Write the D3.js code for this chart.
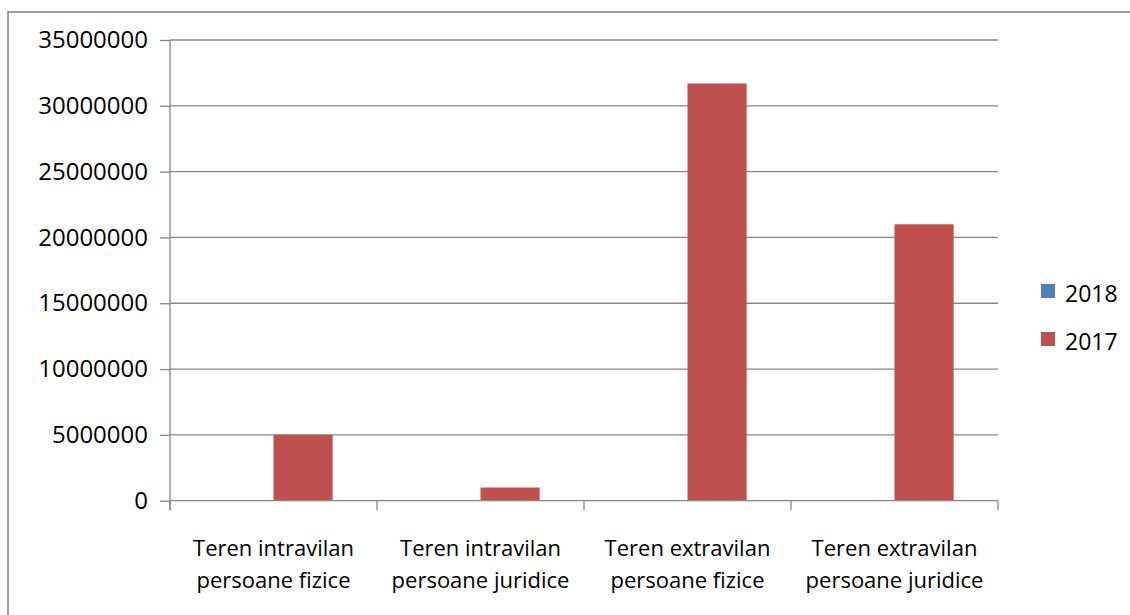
<!DOCTYPE html>
<html>
<head>
<meta charset="utf-8">
<script src="https://cdn.jsdelivr.net/npm/d3@7"></script>
<style>
  html, body { margin: 0; padding: 0; background: #fff; }
  svg { display: block; }
  text { font-family: "Open Sans", "Liberation Sans", sans-serif; fill: #000; }
</style>
</head>
<body>
<svg id="chart" width="1130" height="615"></svg>
<script>
const categories = [
  ["Teren intravilan", "persoane fizice"],
  ["Teren intravilan", "persoane juridice"],
  ["Teren extravilan", "persoane fizice"],
  ["Teren extravilan", "persoane juridice"]
];
const seriesNames = ["2018", "2017"];
const values2018 = [0, 0, 0, 0];
const values2017 = [5000000, 1000000, 31700000, 21000000];
const yTicks = [0, 5000000, 10000000, 15000000, 20000000, 25000000, 30000000, 35000000];
const colors = ["#4F81BD", "#C0504D"];

const svg = d3.select("#chart");
const gridColor = "#878787";

// outer chart border (extends past the window on right/bottom)
svg.append("rect")
  .attr("x", 8).attr("y", 12)
  .attr("width", 1200).attr("height", 700)
  .attr("fill", "none").attr("stroke", gridColor).attr("stroke-width", 1.6);

const plotLeft = 170, plotRight = 998, plotTop = 40, plotBottom = 500.7;

const catKeys = categories.map((c, i) => i);
const x = d3.scaleBand().domain(catKeys).range([plotLeft, plotRight]).paddingInner(0).paddingOuter(0);
const xs = d3.scaleBand().domain(seriesNames).range([0, x.bandwidth()]).paddingInner(0).paddingOuter(0.75);
const y = d3.scaleLinear().domain([0, 35000000]).range([plotBottom, plotTop]);

// gridlines
svg.append("g").selectAll("line").data(yTicks.filter(d => d > 0)).join("line")
  .attr("x1", plotLeft).attr("x2", plotRight)
  .attr("y1", d => y(d)).attr("y2", d => y(d))
  .attr("stroke", gridColor).attr("stroke-width", 1.3);

// bars
const seriesData = [values2018, values2017];
seriesData.forEach((vals, si) => {
  svg.append("g").selectAll("rect").data(vals).join("rect")
    .attr("x", (d, i) => x(i) + xs(seriesNames[si]))
    .attr("width", xs.bandwidth())
    .attr("y", d => y(d))
    .attr("height", d => y(0) - y(d))
    .attr("fill", colors[si]);
});

// y axis
const yAxis = d3.axisLeft(y).tickValues(yTicks).tickSize(10).tickPadding(12).tickFormat(d3.format("d"));
const gy = svg.append("g").attr("transform", `translate(${plotLeft},0)`).call(yAxis);
gy.select(".domain").remove();
gy.selectAll(".tick line").attr("stroke", gridColor).attr("stroke-width", 1.3);
gy.selectAll(".tick text").style("font-size", "24px").style("font-family", "'Open Sans', sans-serif").attr("fill", "#000");
svg.append("line").attr("x1", plotLeft).attr("x2", plotLeft).attr("y1", plotTop).attr("y2", plotBottom + 9.5)
  .attr("stroke", gridColor).attr("stroke-width", 1.3);

// x axis baseline
svg.append("line").attr("x1", plotLeft).attr("x2", plotRight).attr("y1", y(0)).attr("y2", y(0))
  .attr("stroke", gridColor).attr("stroke-width", 1.3);
// category boundary ticks
const boundaries = catKeys.map(i => x(i)).concat([x(catKeys[catKeys.length - 1]) + x.bandwidth()]);
svg.append("g").selectAll("line").data(boundaries).join("line")
  .attr("x1", d => d).attr("x2", d => d)
  .attr("y1", y(0)).attr("y2", y(0) + 9.5)
  .attr("stroke", gridColor).attr("stroke-width", 1.3);

// category labels
const lab = svg.append("g").selectAll("text").data(categories).join("text")
  .attr("text-anchor", "middle")
  .style("font-size", "22px");
lab.each(function(lines, i) {
  const t = d3.select(this);
  lines.forEach((ln, j) => {
    t.append("tspan").attr("x", x(i) + x.bandwidth() / 2).attr("y", 556 + j * 32).text(ln);
  });
});

// legend
const legend = svg.append("g").selectAll("g").data(seriesNames).join("g")
  .attr("transform", (d, i) => `translate(1041, ${284 + i * 48})`);
legend.append("rect").attr("width", 14).attr("height", 14).attr("fill", (d, i) => colors[i]);
legend.append("text").attr("x", 24).attr("y", 18).style("font-size", "23px").text(d => d);
</script>
</body>
</html>
